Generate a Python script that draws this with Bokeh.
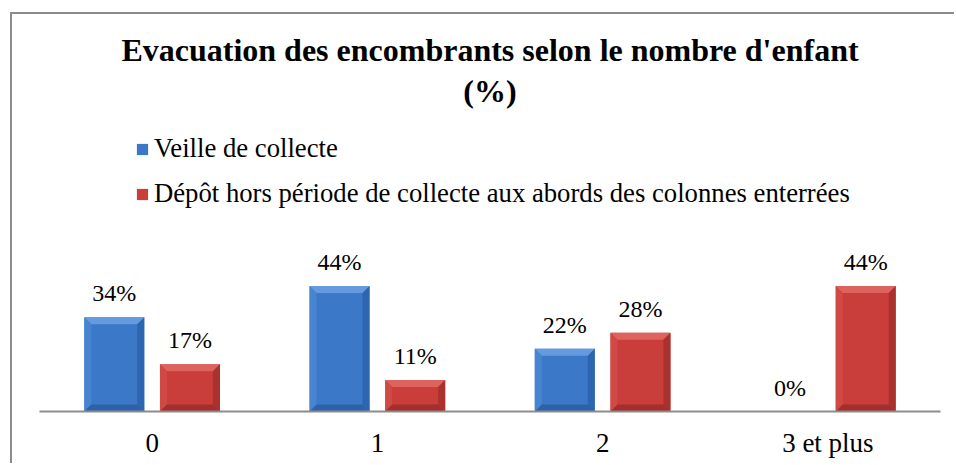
from bokeh.plotting import figure
from bokeh.models import ColumnDataSource, FactorRange, Range1d, LabelSet, Legend, LegendItem, Title
from bokeh.embed import file_html
from bokeh.resources import INLINE

# ---- data ----
categories = ["0", "1", "2", "3 et plus"]
series_names = ["Veille de collecte",
                "Dépôt hors période de collecte aux abords des colonnes enterrées"]
veille = [33.3, 44.4, 22.2, 0.0]
depot = [16.7, 11.1, 27.8, 44.4]
veille_labels = ["34%", "44%", "22%", "0%"]
depot_labels = ["17%", "11%", "28%", "44%"]
title_main = "Evacuation des encombrants selon le nombre d'enfant"
title_sub = "(%)"

# ---- geometry / style ----
W, H = 944, 451
BL, BR, BB, BT = 27, 16, 54, 96
Y_END = 106.4
FRAME_W = W - BL - BR
FRAME_H = H - BT - BB
PX_X = len(categories) / FRAME_W
PX_Y = Y_END / FRAME_H
BAR_W = 60 * PX_X
OFFS = [-0.168, 0.168]
BEV = 7

blue = dict(face="#3b78c7", top="#6a9fe0", left="#4a86d2", right="#2d63ad", bottom="#2c5fa6")
red = dict(face="#c93d3a", top="#e06663", left="#d24a47", right="#a5302e", bottom="#9f2e2c")
SERIF = "Liberation Serif"

p = figure(width=W, height=H, title=None,
           x_range=FactorRange(factors=categories, range_padding=0),
           y_range=Range1d(0, Y_END),
           output_backend="svg", toolbar_location=None,
           min_border_left=BL, min_border_right=BR,
           min_border_bottom=BB, min_border_top=BT)
p.margin = (12, 0, 0, 10)
p.styles = {"border-left": "2px solid #8c8c8c", "border-top": "2px solid #8c8c8c"}
p.outline_line_color = None
p.xgrid.visible = False
p.ygrid.visible = False
p.yaxis.visible = False
p.background_fill_color = "white"
p.border_fill_color = "white"

p.add_layout(Title(text=title_sub, align="center", text_font=SERIF, text_font_size="32px",
                   text_font_style="bold", text_color="black", standoff=4), "above")
p.add_layout(Title(text=title_main, align="center", text_font=SERIF, text_font_size="32px",
                   text_font_style="bold", text_color="black", standoff=1), "above")

xa = p.xaxis[0]
xa.axis_line_color = "#8c8c8c"
xa.axis_line_width = 2
xa.major_tick_line_color = None
xa.minor_tick_line_color = None
xa.major_label_text_font = SERIF
xa.major_label_text_font_size = "27px"
xa.major_label_text_color = "black"
xa.major_label_standoff = 10


def bevel_parts(values, offset):
    parts = {k: {"xs": [], "ys": []} for k in ["face", "top", "left", "right", "bottom"]}
    for i, v in enumerate(values):
        if v <= 0:
            continue
        c = i + 0.5 + offset
        x0, x1 = c - BAR_W / 2, c + BAR_W / 2
        bx = BEV * PX_X
        by = min(BEV * PX_Y, v / 2)
        ix0, ix1, iy0, iy1 = x0 + bx, x1 - bx, by, v - by
        parts["face"]["xs"].append([x0, x1, x1, x0])
        parts["face"]["ys"].append([0, 0, v, v])
        parts["top"]["xs"].append([x0, x1, ix1, ix0])
        parts["top"]["ys"].append([v, v, iy1, iy1])
        parts["left"]["xs"].append([x0, ix0, ix0, x0])
        parts["left"]["ys"].append([0, iy0, iy1, v])
        parts["right"]["xs"].append([x1, ix1, ix1, x1])
        parts["right"]["ys"].append([0, iy0, iy1, v])
        parts["bottom"]["xs"].append([x0, x1, ix1, ix0])
        parts["bottom"]["ys"].append([0, 0, iy0, iy0])
    return parts


face_renderers = []
for values, offset, pal in [(veille, OFFS[0], blue), (depot, OFFS[1], red)]:
    parts = bevel_parts(values, offset)
    r_face = p.patches(xs=parts["face"]["xs"], ys=parts["face"]["ys"],
                       fill_color=pal["face"], line_color=None)
    for key in ["top", "left", "right", "bottom"]:
        p.patches(xs=parts[key]["xs"], ys=parts[key]["ys"],
                  fill_color=pal[key], line_color=None, fill_alpha=0.9)
    face_renderers.append(r_face)

for values, labels, offset in [(veille, veille_labels, OFFS[0]), (depot, depot_labels, OFFS[1])]:
    src = ColumnDataSource(dict(x=[i + 0.5 + offset for i in range(len(values))],
                                y=values, t=labels))
    p.add_layout(LabelSet(x="x", y="y", text="t", source=src,
                          text_align="center", text_baseline="alphabetic",
                          y_offset=16, text_font=SERIF,
                          text_font_size="24px", text_color="black"))

legend = Legend(items=[LegendItem(label=series_names[0], renderers=[face_renderers[0]]),
                       LegendItem(label=series_names[1], renderers=[face_renderers[1]])],
                location=(96, 202), padding=0, margin=0, spacing=14,
                glyph_width=14, glyph_height=14, label_standoff=5,
                label_text_font=SERIF, label_text_font_size="26.7px",
                label_text_color="black",
                border_line_color=None, background_fill_alpha=0)
p.add_layout(legend)

open("out.html", "w").write(file_html(p, INLINE))
